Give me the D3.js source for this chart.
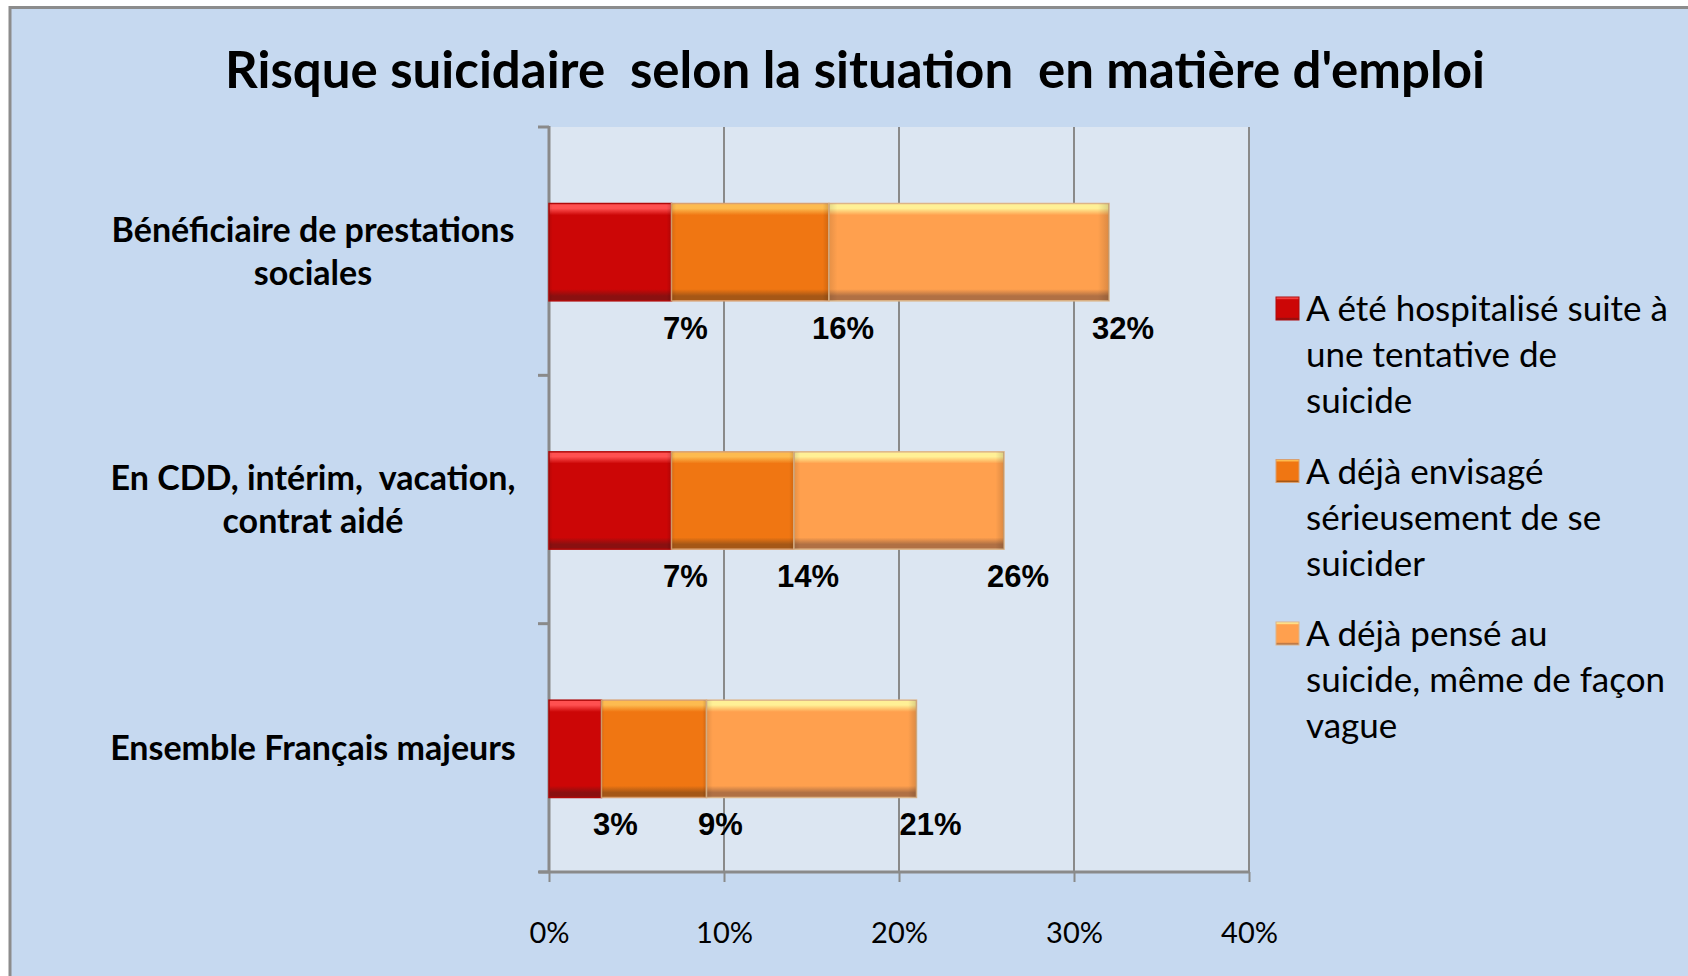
<!DOCTYPE html>
<html>
<head>
<meta charset="utf-8">
<script src="https://cdn.jsdelivr.net/npm/d3@7"></script>
<style>
	html, body { margin: 0; padding: 0; background: #fff; }
	svg { display: block; }
</style>
</head>
<body>
<svg id="chart" width="1688" height="976"></svg>
<script>
// values (cumulative %, as shown in the labels)
const categories = ["Bénéficiaire de prestations sociales", "En CDD, intérim, vacation, contrat aidé", "Ensemble Français majeurs"];
const categoryLines = [["Bénéficiaire de prestations", "sociales"], ["En CDD, intérim,  vacation,", "contrat aidé"], ["Ensemble Français majeurs"]];
const hospitalise = [7, 7, 3];
const envisage = [16, 14, 9];
const pense = [32, 26, 21];
const seriesNames = ["A été hospitalisé suite à une tentative de suicide", "A déjà envisagé sérieusement de se suicider", "A déjà pensé au suicide, même de façon vague"];
const legendLines = [["A été hospitalisé suite à", "une tentative de", "suicide"], ["A déjà envisagé", "sérieusement de se", "suicider"], ["A déjà pensé au", "suicide, même de façon", "vague"]];
const xTicks = [0, 10, 20, 30, 40];
const title = "Risque suicidaire  selon la situation  en matière d'emploi";

const series = [hospitalise, envisage, pense];

// bevel colours: top highlight, main, bottom shade
const colors = [
	{top: "#ff5050", main: "#cc0606", bottom: "#8a1010", edge: "#b00a0a"},
	{top: "#fdbb50", main: "#f07612", bottom: "#a55716", edge: "#d9a070"},
	{top: "#fff096", main: "#ffa04e", bottom: "#b07044", edge: "#ddb488"}
];

let svg = d3.select('#chart');
let width = +svg.attr('width');
let height = +svg.attr('height');

const margin = {left: 549, right: width - 1249, top: 127, bottom: height - 872};

// chart area
svg.append('rect')
	.attr('x', 10).attr('y', 7.5)
	.attr('width', width).attr('height', height)
	.style('fill', '#c6d9f0')
	.style('stroke', '#8c8c8c')
	.style('stroke-width', 3);

// gradients
let defs = svg.append('defs');
colors.forEach((c, i) => {
	let g = defs.append('linearGradient')
		.attr('id', 'bevel-' + i)
		.attr('x1', 0).attr('y1', 0).attr('x2', 0).attr('y2', 1);
	[[0, c.top], [0.05, c.top], [0.12, c.main], [0.88, c.main], [0.95, c.bottom], [1, c.bottom]]
		.forEach(s => g.append('stop').attr('offset', s[0]).attr('stop-color', s[1]));
});
let side = defs.append('linearGradient')
	.attr('id', 'side')
	.attr('x1', 0).attr('y1', 0).attr('x2', 1).attr('y2', 0);
[[0, 'rgba(0,0,0,0.10)'], [0.03, 'rgba(0,0,0,0)'], [0.96, 'rgba(0,0,0,0)'], [1, 'rgba(0,0,0,0.14)']]
	.forEach(s => side.append('stop').attr('offset', s[0]).attr('stop-color', s[1]));

let x = d3.scaleLinear()
	.domain([0, 40])
	.range([margin.left, width - margin.right]);

let y = d3.scaleBand()
	.domain(categories)
	.range([margin.top, height - margin.bottom])
	.paddingInner(0.6)
	.paddingOuter(0.3);

// plot area
svg.append('rect')
	.attr('x', x(0)).attr('y', margin.top)
	.attr('width', x(40) - x(0)).attr('height', height - margin.bottom - margin.top)
	.style('fill', '#dce6f2');

// gridlines
svg.append('g')
	.selectAll('line')
	.data(xTicks.slice(1))
	.enter()
	.append('line')
	.attr('x1', d => x(d)).attr('x2', d => x(d))
	.attr('y1', margin.top).attr('y2', height - margin.bottom)
	.style('stroke', '#8a8a8a')
	.style('stroke-width', 2);

// x axis
let xAxis = svg.append('g')
	.attr('transform', `translate(0,${height - margin.bottom})`)
	.call(d3.axisBottom(x).tickValues(xTicks).tickFormat(d => d + '%').tickSize(10).tickPadding(40));
xAxis.select('.domain').attr('d', `M${x(0) - 10},0H${x(40)}`).style('stroke', '#8a8a8a').style('stroke-width', 3);
xAxis.selectAll('.tick line').style('stroke', '#8a8a8a').style('stroke-width', 2);
xAxis.selectAll('.tick text')
	.style('font-family', 'Lato, sans-serif')
	.style('font-size', '29px')
	.style('fill', '#000');

// y axis: ticks on the band boundaries
let bounds = [margin.top].concat(categories.map(c => y(c) + y.bandwidth() + y.step() * y.paddingInner() / 2));
bounds[bounds.length - 1] = height - margin.bottom;
svg.append('line')
	.attr('x1', x(0)).attr('x2', x(0))
	.attr('y1', margin.top - 1).attr('y2', height - margin.bottom)
	.style('stroke', '#8a8a8a').style('stroke-width', 3);
svg.append('g')
	.selectAll('line')
	.data(bounds)
	.enter()
	.append('line')
	.attr('x1', x(0) - 11).attr('x2', x(0))
	.attr('y1', d => d).attr('y2', d => d)
	.style('stroke', '#8a8a8a').style('stroke-width', 3);

// category labels
let catG = svg.append('g');
categories.forEach((c, i) => {
	let lines = categoryLines[i];
	let cy = y(c) + y.bandwidth() / 2;
	let lh = 43;
	catG.append('text')
		.attr('x', 313)
		.attr('y', cy - (lines.length - 1) * lh / 2)
		.attr('text-anchor', 'middle')
		.style('font-family', 'Lato, sans-serif')
		.style('font-weight', '700')
		.style('font-size', '34px')
		.style('white-space', 'pre')
		.style('fill', '#000')
		.selectAll('tspan')
		.data(lines)
		.enter()
		.append('tspan')
		.attr('x', 313)
		.attr('dy', (d, j) => j === 0 ? '0.35em' : lh)
		.text(d => d);
});

// bars (segments stacked from the previous cumulative value)
series.forEach((values, s) => {
	let g = svg.append('g').attr('class', 'series-' + s);
	let segs = categories.map((c, i) => ({
		cat: c,
		from: s === 0 ? 0 : series[s - 1][i],
		to: values[i]
	}));
	g.selectAll('rect.seg')
		.data(segs)
		.enter()
		.append('rect')
		.attr('class', 'seg')
		.attr('x', d => x(d.from))
		.attr('y', d => y(d.cat) + 2)
		.attr('width', d => x(d.to) - x(d.from))
		.attr('height', y.bandwidth() - 2)
		.style('fill', `url(#bevel-${s})`)
		.style('stroke', colors[s].edge)
		.style('stroke-width', 1.5);
	g.selectAll('rect.shade')
		.data(segs)
		.enter()
		.append('rect')
		.attr('class', 'shade')
		.attr('x', d => x(d.from))
		.attr('y', d => y(d.cat) + 2)
		.attr('width', d => x(d.to) - x(d.from))
		.attr('height', y.bandwidth() - 2)
		.style('fill', 'url(#side)');
});

// data labels below the bars
series.forEach((values, s) => {
	svg.append('g')
		.selectAll('text')
		.data(values)
		.enter()
		.append('text')
		.attr('x', (d, i) => x(d) + 14)
		.attr('y', (d, i) => y(categories[i]) + y.bandwidth() + 27)
		.attr('dy', '0.35em')
		.attr('text-anchor', 'middle')
		.style('font-family', 'Liberation Sans, Arial, sans-serif')
		.style('font-weight', '700')
		.style('font-size', '31px')
		.style('fill', '#000')
		.text(d => d + '%');
});

// legend
let legend = svg.append('g');
seriesNames.forEach((name, s) => {
	let top = 309 + s * 162.5;
	legend.append('rect')
		.attr('x', 1276).attr('y', top - 12)
		.attr('width', 23).attr('height', 23)
		.style('fill', `url(#bevel-${s})`)
		.style('stroke', colors[s].edge)
		.style('stroke-width', 1);
	legend.append('text')
		.attr('x', 1306)
		.attr('y', top)
		.style('font-family', 'Lato, sans-serif')
		.style('font-size', '35px')
		.style('fill', '#000')
		.selectAll('tspan')
		.data(legendLines[s])
		.enter()
		.append('tspan')
		.attr('x', 1306)
		.attr('dy', (d, j) => j === 0 ? '0.35em' : 46)
		.text(d => d);
});

// title
svg.append('text')
	.attr('x', 855)
	.attr('y', 70)
	.attr('dy', '0.35em')
	.attr('text-anchor', 'middle')
	.style('font-family', 'Lato, sans-serif')
	.style('font-weight', '700')
	.style('font-size', '51px')
	.style('white-space', 'pre')
	.style('fill', '#000')
	.text(title);
</script>
</body>
</html>
